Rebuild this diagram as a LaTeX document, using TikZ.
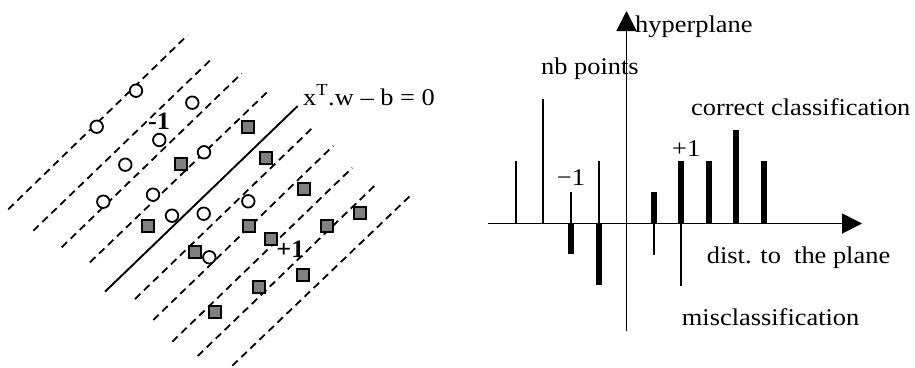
\documentclass[tikz,border=0pt]{standalone}
\usepackage{fontspec}
\setmainfont{Liberation Serif}
\usetikzlibrary{arrows.meta}
\newcommand{\wtxt}[1]{\scalebox{1.1}[1]{\fontsize{24}{28}\selectfont #1}}
\newcommand{\btxt}[1]{\scalebox{1.05}[1]{\fontsize{25}{29}\selectfont\bfseries #1}}
\tikzset{
  margin/.style={line width=1.8pt, dash pattern=on 7.5pt off 5pt},
  sep/.style={line width=1.9pt},
  negpt/.style={circle, draw=black, line width=1.8pt, minimum size=12.5pt, inner sep=0pt, fill=white},
  pospt/.style={rectangle, draw=black, line width=2pt, fill=black!50, minimum size=12pt, inner sep=0pt},
  lbl/.style={inner sep=0pt, anchor=base west},
  axis/.style={line width=1.9pt, -{Triangle[length=20pt, width=20pt]}},
  thinbar/.style={line width=1.8pt},
  thickbar/.style={line width=6pt},
}
\begin{document}
\begin{tikzpicture}[x=1pt,y=-1pt]
\useasboundingbox (0,0) rectangle (915,367);
% ---------- left panel: margins and separating line ----------
\foreach \i/\ax/\ay/\bx/\by in {
  1/8.3/209.3/187.7/35, 2/33.3/230.7/213.3/57.3, 3/61.7/247.3/241.7/73.3,
  4/90/262.3/270/89.3, 6/135/299/314.3/126, 7/153.3/320/333.3/145.7,
  8/172.3/341.7/352.3/167.7, 9/197.7/356/377.7/182.7, 10/232.3/365.7/411/195}{
  \coordinate (la\i) at (\ax,\ay);
  \coordinate (lb\i) at (\bx,\by);
  \draw[margin] (la\i) -- (lb\i);
}
\coordinate (sa) at (105,291.7);
\coordinate (sb) at (297.7,106);
\draw[sep] (sa) -- (sb);
% circles
\foreach \i/\x/\y in {1/136/90.7, 2/96.7/126.7, 3/192.3/102.7, 4/159.3/140,
  5/204/152.3, 6/125.3/164.7, 7/103.3/201.7, 8/153/194.7, 9/172/215.7,
  10/203.7/213.7, 11/248.3/201.3, 12/209.3/257.3}{
  \node[negpt] (c\i) at (\x,\y) {};
}
% squares
\foreach \i/\x/\y in {1/248.3/127, 2/181.3/164, 3/265.7/157.7, 4/147.7/226.3,
  5/303.7/189, 6/248.7/226.3, 7/270.7/238.7, 8/195.3/251.7, 9/326.7/226,
  10/360/213.3, 11/303.3/275.3, 12/259.3/287.3, 13/215/312.3}{
  \node[pospt] (s\i) at (\x,\y) {};
}
\node[inner sep=0pt] (mone) at (159,121) {\btxt{-1}};
\node[inner sep=0pt] (pone) at (290.5,249) {\btxt{+1}};
\node[lbl] (eq) at (303,105) {\wtxt{x\textsuperscript{T}.w – b = 0}};
% ---------- right panel ----------
\coordinate (xs) at (488.3,223.5);
\coordinate (xe) at (862,223.5);
\coordinate (ys) at (626.5,331);
\coordinate (ye) at (626.5,11);
\draw[axis] (xs) -- (xe);
\draw[axis] (ys) -- (ye);
% bars
\foreach \i/\x/\t in {1/516/161, 2/543.3/98.7, 3/571/192, 4/598.7/161}{
  \coordinate (pt\i) at (\x,\t);
  \coordinate (pb\i) at (\x,223.5);
  \draw[thinbar] (pb\i) -- (pt\i);
}
\foreach \i/\x/\b in {3/571/254, 4/598.7/285}{
  \coordinate (nb\i) at (\x,\b);
  \draw[thickbar] (pb\i) -- (nb\i);
}
\foreach \i/\x/\t in {5/654/192.3, 6/681.3/161.3, 7/708.7/161.3, 8/736.3/130.3, 9/764/161.3}{
  \coordinate (qt\i) at (\x,\t);
  \coordinate (qb\i) at (\x,223.5);
  \draw[thickbar] (qb\i) -- (qt\i);
}
\foreach \i/\x/\b in {5/654/255, 6/681.3/286}{
  \coordinate (mb\i) at (\x,\b);
  \draw[thinbar] (qb\i) -- (mb\i);
}
\node[lbl] (hyp) at (635,32.5) {\wtxt{hyperplane}};
\node[lbl] (nbp) at (541,74) {\wtxt{nb points}};
\node[lbl] (cc) at (691,115) {\wtxt{correct classification}};
\node[lbl] (rp) at (672,156) {\wtxt{+1}};
\node[lbl] (rm) at (556.7,185) {\wtxt{−1}};
\node[lbl] (dist) at (706.7,263) {\wtxt{dist. to\ \ the plane}};
\node[lbl] (mis) at (681.7,325) {\wtxt{misclassification}};
\end{tikzpicture}
\end{document}
